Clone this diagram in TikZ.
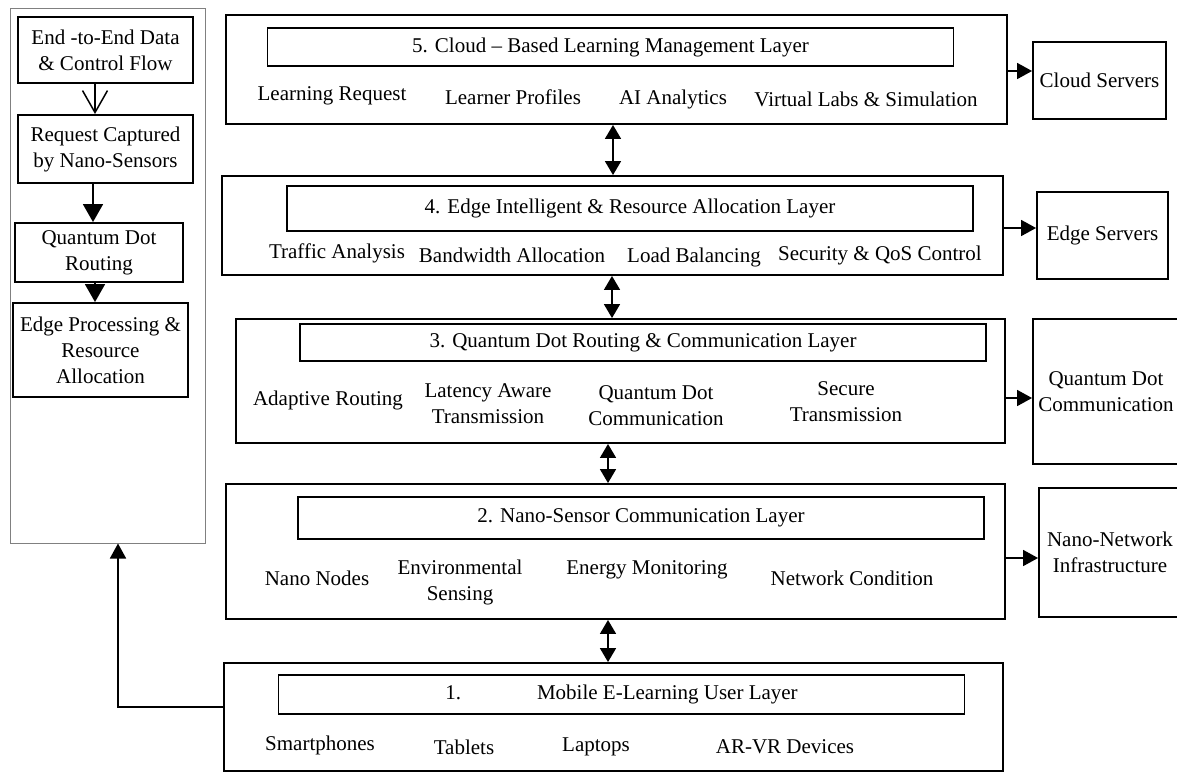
\documentclass[tikz,border=0pt]{standalone}
\usepackage{fontspec}
\setmainfont{Liberation Serif}
\usetikzlibrary{arrows.meta}

\begin{document}
\begin{tikzpicture}[x=1pt,y=-1pt,
  every node/.style={font=\fontsize{21}{26}\selectfont},
  layer/.style={draw,line width=1.9pt,inner sep=0pt},
  ttl/.style={draw,line width=1.9pt,inner sep=0pt,minimum width=686pt},
  side/.style={draw,line width=1.9pt,align=center,inner sep=0pt},
  flowbox/.style={draw,line width=1.9pt,align=center,inner sep=0pt},
  item/.style={align=center,inner sep=0pt},
  arr/.style={line width=1.7pt,-{Triangle[length=15pt,width=16pt]}},
  bigarr/.style={line width=1.7pt,-{Triangle[length=18pt,width=20pt]}},
  dbl/.style={line width=1.7pt,{Triangle[length=14pt,width=16pt]}-{Triangle[length=14pt,width=16pt]}}]
  \useasboundingbox (0,0) rectangle (1177,772);

  % left panel
  \node[draw=black!50,line width=1pt,inner sep=0pt,minimum width=195pt,minimum height=535pt] (panel) at (107.5,275.5) {};
  \node[flowbox,minimum width=175pt,minimum height=66pt] (fa) at (105.5,50) {End -to-End Data\\\& Control Flow};
  \node[flowbox,minimum width=175pt,minimum height=68pt] (fb) at (105.5,149) {Request Captured\\by Nano-Sensors};
  \node[flowbox,minimum width=168pt,minimum height=59pt] (fc) at (99,252.5) {Quantum Dot\\Routing};
  \node[flowbox,minimum width=175pt,minimum height=94pt] (fd) at (100.5,350) {Edge Processing \&\\Resource\\Allocation};
  \draw[line width=1.5pt,-{Straight Barb[length=22pt,width=25pt]}] ([xshift=-10.5pt]fa.south) -- ([xshift=-10.5pt]fa.south |- fb.north);
  \draw[bigarr] ([xshift=-12.5pt]fb.south) -- ([xshift=-12.5pt]fb.south |- fc.north);
  \draw[bigarr] ([xshift=-4pt]fc.south) -- ([xshift=-4pt]fc.south |- fd.north);

  % layer 5
  \node[layer,minimum width=781pt,minimum height=109pt] (l5) at (616.5,69.5) {};
  \node[ttl,minimum height=38pt] (t5) at (610.5,47) {5. Cloud -- Based Learning Management Layer};
  \node[item] (l5a) at (332,96) {Learning Request};
  \node[item] (l5b) at (513,97) {Learner Profiles};
  \node[item] (l5c) at (673,99) {AI Analytics};
  \node[item] (l5d) at (866,99) {Virtual Labs \& Simulation};

  % layer 4
  \node[layer,minimum width=781pt,minimum height=99pt] (l4) at (612.5,225.5) {};
  \node[ttl,minimum height=45pt] (t4) at (630,208.5) {4. Edge Intelligent \& Resource Allocation Layer};
  \node[item] (l4a) at (337,253) {Traffic Analysis};
  \node[item] (l4b) at (512,255) {Bandwidth Allocation};
  \node[item] (l4c) at (694,257) {Load Balancing};
  \node[item] (l4d) at (880,255) {Security \& QoS Control};

  % layer 3
  \node[layer,minimum width=769pt,minimum height=124pt] (l3) at (620.5,381) {};
  \node[ttl,minimum height=37pt] (t3) at (643,342.5) {3. Quantum Dot Routing \& Communication Layer};
  \node[item] (l3a) at (328,400) {Adaptive Routing};
  \node[item] (l3b) at (488,404) {Latency Aware\\Transmission};
  \node[item] (l3c) at (656,406) {Quantum Dot\\Communication};
  \node[item] (l3d) at (846,402) {Secure\\Transmission};

  % layer 2
  \node[layer,minimum width=779pt,minimum height=135pt] (l2) at (615.5,551.5) {};
  \node[ttl,minimum height=42pt] (t2) at (641,518) {2. Nano-Sensor Communication Layer};
  \node[item] (l2a) at (317,578) {Nano Nodes};
  \node[item] (l2b) at (460,582) {Environmental\\Sensing};
  \node[item] (l2c) at (647,570) {Energy Monitoring};
  \node[item] (l2d) at (852,578) {Network Condition};

  % layer 1
  \node[layer,minimum width=779pt,minimum height=108pt] (l1) at (613.5,717) {};
  \node[ttl,minimum height=39pt] (t1) at (621.5,694.5) {1.\hspace{76pt}Mobile E-Learning User Layer};
  \node[item] (l1a) at (320,745) {Smartphones};
  \node[item] (l1b) at (464,747) {Tablets};
  \node[item] (l1c) at (596,747) {Laptops};
  \node[item] (l1d) at (785,747) {AR-VR Devices};

  % right side
  \node[side,minimum width=133pt,minimum height=77pt] (cs) at (1099.5,80.5) {Cloud Servers};
  \node[side,minimum width=131pt,minimum height=87pt] (es) at (1102.5,235.5) {Edge Servers};
  \node[side,minimum width=146pt,minimum height=145pt] (qd) at (1106,391.5) {Quantum Dot\\Communication};
  \node[side,minimum width=142pt,minimum height=129pt] (nn) at (1110,552.5) {Nano-Network\\Infrastructure};

  \draw[arr] ([yshift=-1.5pt]l5.east) -- ([yshift=-1.5pt]l5.east -| cs.west);
  \draw[arr] ([yshift=-2.5pt]l4.east) -- ([yshift=-2.5pt]l4.east -| es.west);
  \draw[arr] ([yshift=-17pt]l3.east) -- ([yshift=-17pt]l3.east -| qd.west);
  \draw[arr] ([yshift=-6.5pt]l2.east) -- ([yshift=-6.5pt]l2.east -| nn.west);

  % between layers
  \draw[dbl] ([xshift=-3.5pt]l5.south) -- ([xshift=-3.5pt]l5.south |- l4.north);
  \draw[dbl] ([xshift=-0.5pt]l4.south) -- ([xshift=-0.5pt]l4.south |- l3.north);
  \draw[dbl] ([xshift=-12.5pt]l3.south) -- ([xshift=-12.5pt]l3.south |- l2.north);
  \draw[dbl] ([xshift=-7.5pt]l2.south) -- ([xshift=-7.5pt]l2.south |- l1.north);

  % back to the flow
  \draw[arr] ([yshift=10pt]l1.west) -| ([xshift=10.5pt]panel.south);
\end{tikzpicture}
\end{document}
